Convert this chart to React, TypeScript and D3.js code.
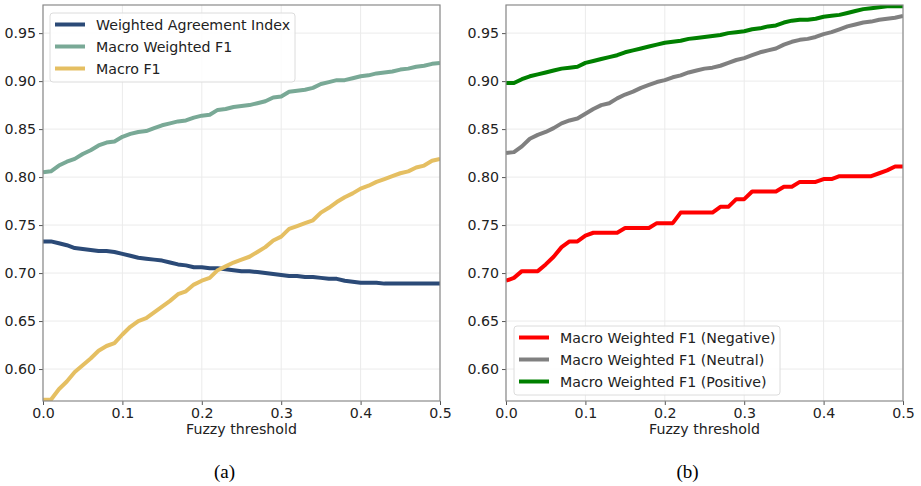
import { useEffect, useRef } from "react";
import * as d3 from "d3";

const thresholds = [
  0.0, 0.01, 0.02, 0.03, 0.04, 0.05, 0.06, 0.07, 0.08, 0.09,
  0.1, 0.11, 0.12, 0.13, 0.14, 0.15, 0.16, 0.17, 0.18, 0.19,
  0.2, 0.21, 0.22, 0.23, 0.24, 0.25, 0.26, 0.27, 0.28, 0.29,
  0.3, 0.31, 0.32, 0.33, 0.34, 0.35, 0.36, 0.37, 0.38, 0.39,
  0.4, 0.41, 0.42, 0.43, 0.44, 0.45, 0.46, 0.47, 0.48, 0.49, 0.5,
];

const weightedAgreement = [
  0.733, 0.733, 0.731, 0.729, 0.726, 0.725, 0.724, 0.723, 0.723, 0.722,
  0.72, 0.718, 0.716, 0.715, 0.714, 0.713, 0.711, 0.709, 0.708, 0.706,
  0.706, 0.705, 0.705, 0.704, 0.703, 0.702, 0.702, 0.701, 0.7, 0.699,
  0.698, 0.697, 0.697, 0.696, 0.696, 0.695, 0.694, 0.694, 0.692, 0.691,
  0.69, 0.69, 0.69, 0.689, 0.689, 0.689, 0.689, 0.689, 0.689, 0.689, 0.689,
];

const macroWeightedF1 = [
  0.805, 0.806, 0.812, 0.816, 0.819, 0.824, 0.828, 0.833, 0.836, 0.837,
  0.842, 0.845, 0.847, 0.848, 0.851, 0.854, 0.856, 0.858, 0.859, 0.862,
  0.864, 0.865, 0.87, 0.871, 0.873, 0.874, 0.875, 0.877, 0.879, 0.883,
  0.884, 0.889, 0.89, 0.891, 0.893, 0.897, 0.899, 0.901, 0.901, 0.903,
  0.905, 0.906, 0.908, 0.909, 0.91, 0.912, 0.913, 0.915, 0.916, 0.918, 0.919,
];

const macroF1 = [
  0.568, 0.568, 0.579, 0.587, 0.597, 0.604, 0.611, 0.619, 0.624, 0.627,
  0.636, 0.644, 0.65, 0.653, 0.659, 0.665, 0.671, 0.678, 0.681, 0.688,
  0.692, 0.695, 0.703, 0.707, 0.711, 0.714, 0.717, 0.722, 0.727, 0.734,
  0.738, 0.746, 0.749, 0.752, 0.755, 0.763, 0.768, 0.774, 0.779, 0.783,
  0.788, 0.791, 0.795, 0.798, 0.801, 0.804, 0.806, 0.81, 0.812, 0.817, 0.819,
];

const negativeF1 = [
  0.692, 0.695, 0.702, 0.702, 0.702, 0.709, 0.717, 0.727, 0.733, 0.733,
  0.739, 0.742, 0.742, 0.742, 0.742, 0.747, 0.747, 0.747, 0.747, 0.752,
  0.752, 0.752, 0.763, 0.763, 0.763, 0.763, 0.763, 0.769, 0.769, 0.777,
  0.777, 0.785, 0.785, 0.785, 0.785, 0.79, 0.79, 0.795, 0.795, 0.795,
  0.798, 0.798, 0.801, 0.801, 0.801, 0.801, 0.801, 0.804, 0.807, 0.811, 0.811,
];

const neutralF1 = [
  0.825, 0.826, 0.832, 0.84, 0.844, 0.847, 0.851, 0.856, 0.859, 0.861,
  0.866, 0.871, 0.875, 0.877, 0.882, 0.886, 0.889, 0.893, 0.896, 0.899,
  0.901, 0.904, 0.906, 0.909, 0.911, 0.913, 0.914, 0.916, 0.919, 0.922,
  0.924, 0.927, 0.93, 0.932, 0.934, 0.938, 0.941, 0.943, 0.944, 0.946,
  0.949, 0.951, 0.954, 0.957, 0.959, 0.961, 0.962, 0.964, 0.965, 0.966, 0.968,
];

const positiveF1 = [
  0.898, 0.898, 0.902, 0.905, 0.907, 0.909, 0.911, 0.913, 0.914, 0.915,
  0.919, 0.921, 0.923, 0.925, 0.927, 0.93, 0.932, 0.934, 0.936, 0.938,
  0.94, 0.941, 0.942, 0.944, 0.945, 0.946, 0.947, 0.948, 0.95, 0.951,
  0.952, 0.954, 0.955, 0.957, 0.958, 0.961, 0.963, 0.964, 0.964, 0.965,
  0.967, 0.968, 0.969, 0.971, 0.973, 0.975, 0.976, 0.977, 0.978, 0.978, 0.978,
];

const xTicks = [0, 0.1, 0.2, 0.3, 0.4, 0.5];
const yTicks = [0.6, 0.65, 0.7, 0.75, 0.8, 0.85, 0.9, 0.95];

type Series = { name: string; color: string; values: number[] };

const leftSeries: Series[] = [
  { name: "Weighted Agreement Index", color: "#2b4a77", values: weightedAgreement },
  { name: "Macro Weighted F1", color: "#79a996", values: macroWeightedF1 },
  { name: "Macro F1", color: "#e5bf62", values: macroF1 },
];

const rightSeries: Series[] = [
  { name: "Macro Weighted F1 (Negative)", color: "#ff0000", values: negativeF1 },
  { name: "Macro Weighted F1 (Neutral)", color: "#808080", values: neutralF1 },
  { name: "Macro Weighted F1 (Positive)", color: "#008000", values: positiveF1 },
];

const FONT = "DejaVu Sans, sans-serif";
const FS = 14.2;

function drawPanel(
  svg: d3.Selection<SVGSVGElement, unknown, null, undefined>,
  left: number,
  series: Series[],
  legendPos: { x: number; y: number; w: number },
  caption: string
) {
  const top = 5;
  const w = 397;
  const h = 396;

  const x = d3.scaleLinear().domain([0, 0.5]).range([0, w]);
  const y = d3.scaleLinear().domain([0.5667, 0.9793]).range([h, 0]);

  const g = svg.append("g").attr("transform", `translate(${left},${top})`);

  // grid
  g.append("g")
    .selectAll("line.vg")
    .data(xTicks)
    .enter()
    .append("line")
    .attr("x1", d => x(d))
    .attr("x2", d => x(d))
    .attr("y1", 0)
    .attr("y2", h)
    .attr("stroke", "#ebebeb")
    .attr("stroke-width", 1);
  g.append("g")
    .selectAll("line.hg")
    .data(yTicks)
    .enter()
    .append("line")
    .attr("x1", 0)
    .attr("x2", w)
    .attr("y1", d => y(d))
    .attr("y2", d => y(d))
    .attr("stroke", "#ebebeb")
    .attr("stroke-width", 1);

  // lines
  const clipId = `clip-${left}`;
  g.append("clipPath").attr("id", clipId).append("rect").attr("width", w).attr("height", h);

  const line = d3.line<number>()
    .x((_, i) => x(thresholds[i]))
    .y(d => y(d));

  series.forEach(s => {
    g.append("path")
      .datum(s.values)
      .attr("d", line)
      .attr("fill", "none")
      .attr("stroke", s.color)
      .attr("stroke-width", 4)
      .attr("stroke-linejoin", "round")
      .attr("clip-path", `url(#${clipId})`);
  });

  // axes
  const ax = g.append("g")
    .attr("transform", `translate(0,${h})`)
    .call(d3.axisBottom(x).tickValues(xTicks).tickSize(4).tickPadding(3).tickFormat(d3.format(".1f")));
  ax.select(".domain").remove();
  ax.selectAll("line").attr("stroke", "#555");
  ax.selectAll("text").attr("font-size", FS).attr("font-family", FONT).attr("fill", "#222");

  const ay = g.append("g")
    .call(d3.axisLeft(y).tickValues(yTicks).tickSize(4).tickPadding(3).tickFormat(d3.format(".2f")));
  ay.select(".domain").remove();
  ay.selectAll("line").attr("stroke", "#555");
  ay.selectAll("text").attr("font-size", FS).attr("font-family", FONT).attr("fill", "#222");

  // frame
  g.append("rect")
    .attr("width", w)
    .attr("height", h)
    .attr("fill", "none")
    .attr("stroke", "#8a8a8a")
    .attr("stroke-width", 1.2);

  g.append("text")
    .attr("x", w / 2)
    .attr("y", h + 33)
    .attr("text-anchor", "middle")
    .attr("font-size", FS)
    .attr("font-family", FONT)
    .attr("fill", "#222")
    .text("Fuzzy threshold");

  // legend
  const lg = svg.append("g").attr("transform", `translate(${legendPos.x},${legendPos.y})`);
  lg.append("rect")
    .attr("width", legendPos.w)
    .attr("height", 69)
    .attr("rx", 3)
    .attr("fill", "white")
    .attr("fill-opacity", 0.85)
    .attr("stroke", "#dcdcdc");
  series.forEach((s, i) => {
    const cy = 11.5 + i * 22;
    lg.append("line")
      .attr("x1", 5)
      .attr("x2", 35)
      .attr("y1", cy)
      .attr("y2", cy)
      .attr("stroke", s.color)
      .attr("stroke-width", 4);
    lg.append("text")
      .attr("x", 46)
      .attr("y", cy + 5)
      .attr("font-size", FS)
      .attr("font-family", FONT)
      .attr("fill", "#222")
      .text(s.name);
  });

  svg.append("text")
    .attr("x", left + w / 2 - 17)
    .attr("y", 478)
    .attr("text-anchor", "middle")
    .attr("font-size", 19)
    .attr("font-family", "Liberation Serif, serif")
    .attr("fill", "#000")
    .text(caption);
}

export default function App() {
  const svgRef = useRef<SVGSVGElement | null>(null);

  useEffect(() => {
    if (!svgRef.current) return;
    const svg = d3.select(svgRef.current);
    svg.selectAll("*").remove();
    svg.attr("width", 921).attr("height", 486);

    drawPanel(svg, 43, leftSeries, { x: 50, y: 13, w: 245 }, "(a)");
    drawPanel(svg, 506, rightSeries, { x: 514, y: 326, w: 266 }, "(b)");
  }, []);

  return (
    <svg
      ref={svgRef}
      style={{ position: "absolute", left: 0, top: 0, background: "white" }}
    />
  );
}
